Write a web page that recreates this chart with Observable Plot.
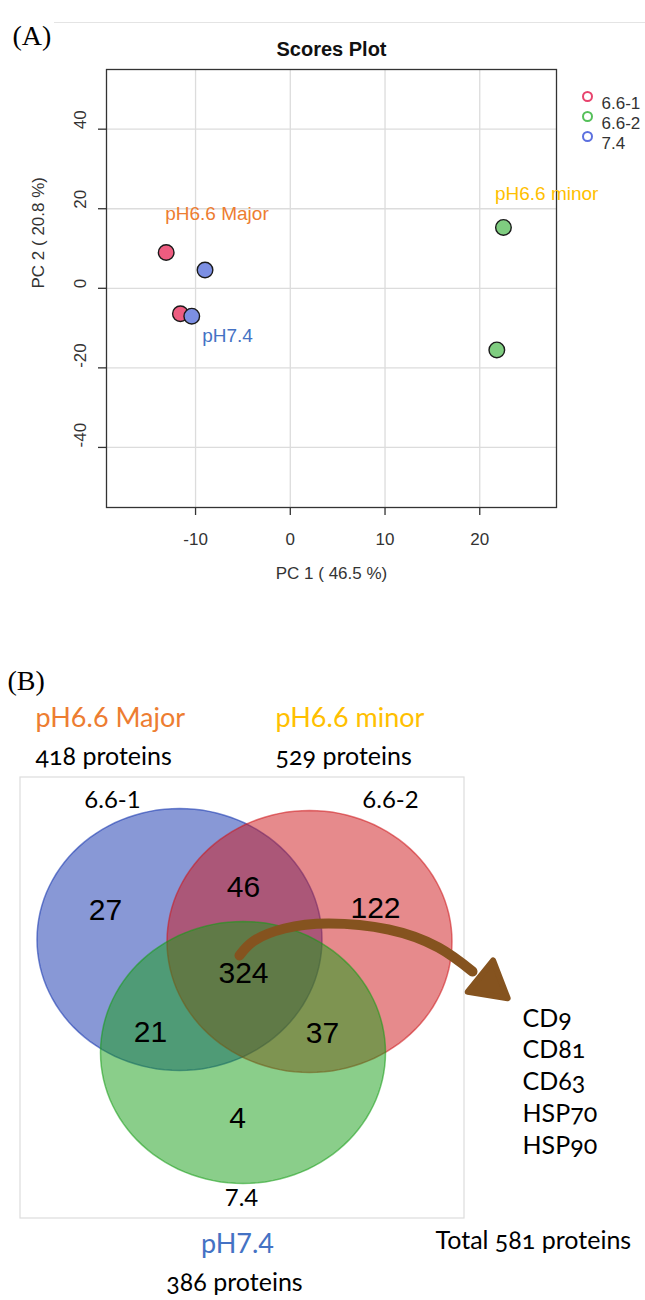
<!DOCTYPE html>
<html><head><meta charset="utf-8">
<script src="https://cdn.jsdelivr.net/npm/d3@7"></script>
<script src="https://cdn.jsdelivr.net/npm/@observablehq/plot@0.6"></script>
<style>
html,body{margin:0;padding:0;background:#fff;}
body{width:645px;position:relative;}
#a,#b{line-height:0;}
svg{display:block;}
#topline{position:absolute;left:54px;top:22px;width:591px;height:0;border-top:1px solid #e4e4e4;}
</style></head><body>
<div id="topline"></div>
<div id="a"></div><div id="b"></div>
<script>
// ---------- Panel A data (PCA scores) ----------
const sampleGroup = ["6.6-1","6.6-1","6.6-2","6.6-2","7.4","7.4"];
const pc1 = [-13.1,-11.6,22.5,21.8,-9.0,-10.4];
const pc2 = [9.0,-6.4,15.3,-15.5,4.6,-7.0];
const legendGroups = ["6.6-1","6.6-2","7.4"];
const xTicks = [-10,0,10,20];
const yTicks = [-40,-20,0,20,40];
const annoText = ["pH6.6 Major","pH7.4","pH6.6 minor"];
const annoX = [-13.2,-9.3,21.6];
const annoY = [18.8,-11.9,23.8];

// ---------- Panel B data (Venn) ----------
const vennSets = ["6.6-1","6.6-2","7.4"];
const vennGroupNames = ["pH6.6 Major","pH6.6 minor","pH7.4"];
const vennTotals = [418,529,386];
const regionNames = ["6.6-1 only","6.6-1∩6.6-2","6.6-2 only","all","6.6-1∩7.4","6.6-2∩7.4","7.4 only"];
const regionCounts = [27,46,122,324,21,37,4];
const markerProteins = ["CD9","CD81","CD63","HSP70","HSP90"];
const totalProteins = 581;

// ---------- layout (page pixel coordinates for panel B) ----------
const vennCx = [179,309,242.5], vennCy = [939,941,1052];
const regionX = [105,243,375,243,150,322,237];
const regionY = [910,887,908,973,1032,1033,1118];
const setLabelX = [112,390,241], setLabelY = [800,800,1198];
const headX = [35,275,237], headY = [718,718,1244], headAnchor = ["start","start","middle"];
const totX = [35,275,234], totY = [756,756,1282];
const markerY = [1018,1049,1081,1113,1145];
const arrowX = [239,254,284,328,388,438,472];
const arrowY = [955,940,928,923,929,947,971];

// ---------- styles ----------
const sans = "'Liberation Sans', Arial, sans-serif";
const human = "Lato, 'Open Sans', sans-serif";
const fillCol = {"6.6-1":"#EE5C80","6.6-2":"#7FCD80","7.4":"#7C8FE3"};
const legCol = {"6.6-1":"#E8436D","6.6-2":"#55C05A","7.4":"#5C70DF"};
const annoCol = ["#ED7D31","#4472C4","#FFC000"];
const vennCol = ["#1131AD","#CD1519","#159D15"];
const arrowCol = "#85531F";

const pts = pc1.map((x,i)=>({x, y: pc2[i], g: sampleGroup[i]}));

const plotA = Plot.plot({
  width:645, height:640, marginLeft:106, marginRight:89, marginTop:69, marginBottom:133,
  style:{fontFamily:sans, color:"#333", background:"#fff"},
  x:{domain:[-19.4,28.1]}, y:{domain:[-55.1,55.0]},
  color:{type:"identity"},
  marks:[
    Plot.gridX(xTicks,{stroke:"#dcdcdc", strokeOpacity:1, strokeWidth:1.3}),
    Plot.gridY(yTicks,{stroke:"#dcdcdc", strokeOpacity:1, strokeWidth:1.3}),
    Plot.axisX(xTicks,{tickSize:8, tickPadding:17, tickFormat:d=>String(d), fontSize:17, fontFamily:sans, label:null, strokeWidth:1.3}),
    Plot.axisY(yTicks,{tickSize:8, tickFormat:()=>"", fill:"none", label:null, strokeWidth:1.3}),
    Plot.text(yTicks,{y:d=>d, text:d=>String(d), frameAnchor:"left", dx:-26, rotate:-90, fontSize:17, fontFamily:sans}),
    Plot.frame({stroke:"#333", strokeWidth:1.3}),
    Plot.dot(pts,{x:"x", y:"y", r:7.8, fill:d=>fillCol[d.g], stroke:"#1a1a1a", strokeWidth:1.4}),
    ...annoText.map((t,i)=>Plot.text([t],{x:annoX[i], y:annoY[i], textAnchor:"start", fill:annoCol[i], fontSize:19, fontFamily:sans})),
    ...legendGroups.map((g,i)=>[
      Plot.dot([g],{frameAnchor:"top-right", dx:31, dy:27+i*20, r:4.5, stroke:legCol[g], strokeWidth:2, fill:"none"}),
      Plot.text([g],{frameAnchor:"top-right", dx:45, dy:27+i*20, textAnchor:"start", fontSize:17, fontFamily:sans})
    ]),
    Plot.text(["PC 2 ( 20.8 %)"],{frameAnchor:"left", dx:-68, rotate:-90, fontSize:17, fontFamily:sans}),
    Plot.text(["PC 1 ( 46.5 %)"],{frameAnchor:"bottom", dy:71, fontSize:17, fontFamily:sans}),
    Plot.text(["Scores Plot"],{frameAnchor:"top", dy:-28, fontSize:20, fontWeight:"bold", fill:"#111", fontFamily:sans}),
    Plot.text(["(A)"],{frameAnchor:"top-left", dx:-94, dy:-44, textAnchor:"start", fontFamily:"'Liberation Serif', serif", fontSize:28, fill:"#000"})
  ]
});
document.getElementById("a").appendChild(plotA);

const ASPECT = 131/142.5;
const ellipse = {draw(ctx, size){
  const rx = Math.sqrt(size/Math.PI), ry = rx*ASPECT, n = 120;
  ctx.moveTo(rx,0);
  for (let k=1;k<n;k++){ const t = 2*Math.PI*k/n; ctx.lineTo(rx*Math.cos(t), ry*Math.sin(t)); }
  ctx.closePath();
}};

const plotB = Plot.plot({
  width:645, height:660, margin:0,
  x:{domain:[0,645], range:[0,645], axis:null},
  y:{domain:[640,1300], range:[0,660], axis:null},
  color:{type:"identity"},
  style:{fontFamily:sans, color:"#000", background:"#fff"},
  marks:[
    Plot.rect([0],{x1:20, x2:464, y1:777, y2:1218, fill:"none", stroke:"#dddddd", strokeWidth:1.2}),
    Plot.dot(vennSets,{x:(d,i)=>vennCx[i], y:(d,i)=>vennCy[i], r:142.5, symbol:ellipse,
      fill:(d,i)=>vennCol[i], fillOpacity:0.5, stroke:(d,i)=>vennCol[i], strokeOpacity:0.55, strokeWidth:1.5}),
    Plot.line(arrowX.map((x,i)=>({x, y:arrowY[i]})),{x:"x", y:"y", curve:"natural", stroke:arrowCol, strokeWidth:10, strokeLinecap:"round"}),
    Plot.dot([0],{x:489, y:983, symbol:"triangle", r:15, rotate:129, fill:arrowCol, stroke:arrowCol, strokeWidth:6, strokeLinejoin:"round"}),
    Plot.text(regionCounts,{x:(d,i)=>regionX[i], y:(d,i)=>regionY[i], text:d=>String(d), fontSize:30, fill:"#000", fontFamily:sans}),
    Plot.text(vennSets,{x:(d,i)=>setLabelX[i], y:(d,i)=>setLabelY[i], fontSize:24, fontFamily:human, fill:"#000"}),
    Plot.text(["(B)"],{x:7, y:681, textAnchor:"start", fontFamily:"'Liberation Serif', serif", fontSize:28, fill:"#000"}),
    ...vennGroupNames.map((g,i)=>Plot.text([g],{x:headX[i], y:headY[i], textAnchor:headAnchor[i], fontFamily:human, fontSize:27, fill:annoCol[[0,2,1][i]]})),
    ...vennTotals.map((v,i)=>Plot.text([`${v} proteins`],{x:totX[i], y:totY[i], textAnchor:headAnchor[i], fontFamily:human, fontSize:25, fontVariant:"oldstyle-nums", fill:"#000"})),
    Plot.text(markerProteins,{x:522, y:(d,i)=>markerY[i], textAnchor:"start", fontFamily:human, fontSize:25, fontVariant:"oldstyle-nums", fill:"#000"}),
    Plot.text([`Total ${totalProteins} proteins`],{x:435, y:1240, textAnchor:"start", fontFamily:human, fontSize:25, fontVariant:"oldstyle-nums", fill:"#000"})
  ]
});
document.getElementById("b").appendChild(plotB);
</script>
</body></html>
